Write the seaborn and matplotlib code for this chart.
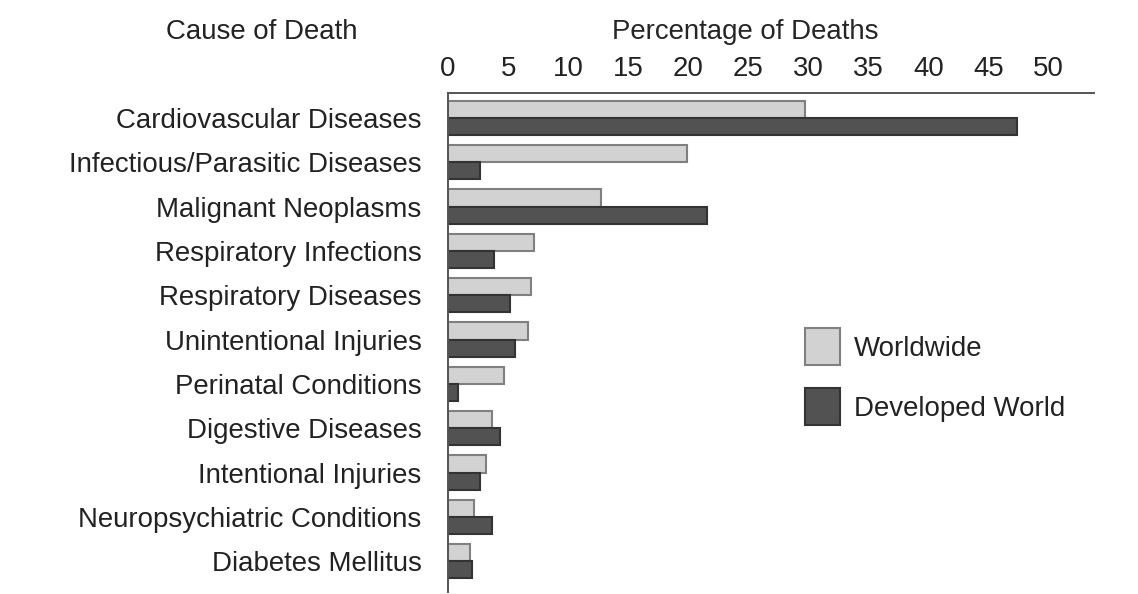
import pandas as pd
import matplotlib.pyplot as plt
import seaborn as sns

# -----------------------------
# Data
# -----------------------------
causes = ["Cardiovascular Diseases", "Infectious/Parasitic Diseases",
          "Malignant Neoplasms", "Respiratory Infections",
          "Respiratory Diseases", "Unintentional Injuries",
          "Perinatal Conditions", "Digestive Diseases",
          "Intentional Injuries", "Neuropsychiatric Conditions",
          "Diabetes Mellitus"]
worldwide = [29.7, 19.9, 12.7, 7.2, 6.9, 6.7, 4.7, 3.7, 3.2, 2.2, 1.8]
developed = [47.4, 2.7, 21.6, 3.8, 5.2, 5.6, 0.8, 4.3, 2.7, 3.7, 2.0]
ticks = [0, 5, 10, 15, 20, 25, 30, 35, 40, 45, 50]

df = pd.DataFrame({"cause": causes * 2,
                   "pct": worldwide + developed,
                   "region": ["Worldwide"] * len(causes) + ["Developed World"] * len(causes)})

sns.set_style("white")
plt.rcParams["font.family"] = ["Liberation Sans", "DejaVu Sans"]
plt.rcParams["text.color"] = "#222222"
fs = 19.9

fig = plt.figure(figsize=(11.38, 5.94), dpi=100)
ax = fig.add_axes([0.3937, 0.003, 0.5677, 0.8404])

sns.barplot(data=df, y="cause", x="pct", hue="region", orient="h",
            palette={"Worldwide": "#d2d2d2", "Developed World": "#525252"},
            width=0.77, ax=ax, legend=False, saturation=1)

edges = ["#808080"] * len(causes) + ["#333333"] * len(causes)
for bar, ec in zip(ax.patches, edges):
    bar.set_edgecolor(ec)
    bar.set_linewidth(1.5)

ax.set_xlim(0, 53.8)
ax.set_ylim(10.70, -0.56)
ax.set_xticks(ticks)
ax.xaxis.tick_top()
ax.tick_params(axis="x", length=0, pad=8, labelsize=fs, labelcolor="#222222")
ax.tick_params(axis="y", length=0, pad=19, labelsize=fs, labelcolor="#222222")
ax.set_ylabel("")
ax.set_xlabel("Percentage of Deaths", fontsize=fs)
ax.xaxis.set_label_position("top")
ax.xaxis.label.set_va("center")
ax.xaxis.set_label_coords((745 - 448) / 646, 1 + (93 - 32) / 499)

for side in ["right", "bottom"]:
    ax.spines[side].set_visible(False)
for side in ["top", "left"]:
    ax.spines[side].set_color("#555555")
    ax.spines[side].set_linewidth(1.4)

fig.text(262 / 1138, 1 - 32 / 594, "Cause of Death", fontsize=fs,
         ha="center", va="center")

# legend
handles = [plt.Rectangle((0, 0), 1, 1, facecolor="#d2d2d2", edgecolor="#808080", linewidth=1.5),
           plt.Rectangle((0, 0), 1, 1, facecolor="#525252", edgecolor="#333333", linewidth=1.5)]
fig.legend(handles, ["Worldwide", "Developed World"], loc="upper left",
           bbox_to_anchor=(805 / 1138, 1 - 328 / 594), frameon=False,
           fontsize=fs, handlelength=1.27, handleheight=1.7,
           handletextpad=0.5, labelspacing=0.82, borderpad=0, borderaxespad=0)

plt.savefig("out.png", dpi=100)
